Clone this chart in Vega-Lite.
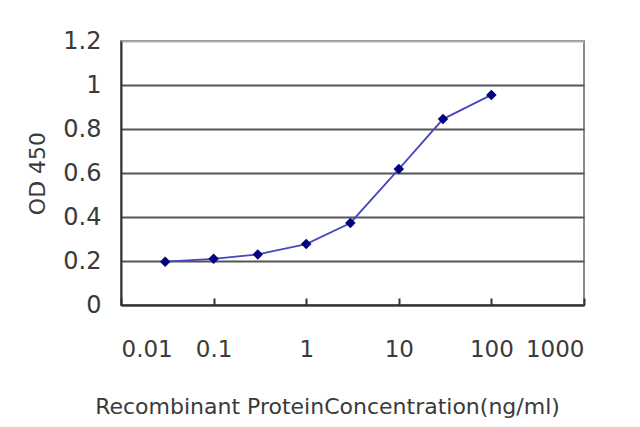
{
  "$schema": "https://vega.github.io/schema/vega-lite/v6.json",
  "description": "OD 450 versus recombinant protein concentration, log x axis",
  "autosize": "none",
  "width": 463,
  "height": 264,
  "padding": {"left": 121, "top": 41, "right": 56, "bottom": 122},
  "background": "white",
  "data": {
    "values": [
      {"conc": 0.03, "od": 0.197},
      {"conc": 0.1, "od": 0.21},
      {"conc": 0.3, "od": 0.23},
      {"conc": 1, "od": 0.277},
      {"conc": 3, "od": 0.373},
      {"conc": 10, "od": 0.618},
      {"conc": 30, "od": 0.845},
      {"conc": 100, "od": 0.955}
    ]
  },
  "encoding": {
    "x": {
      "field": "conc",
      "type": "quantitative",
      "scale": {"type": "log", "domain": [0.01, 1000], "nice": false},
      "axis": {
        "title": "Recombinant ProteinConcentration(ng/ml)",
        "values": [0.01, 0.1, 1, 10, 100, 1000],
        "format": "~g",
        "grid": false,
        "tickSize": -7,
        "tickColor": "#333",
        "tickWidth": 2,
        "labelPadding": 40,
        "labelDx": -5,
        "titleX": 206,
        "titleY": 101,
        "titleBaseline": "middle"
      }
    },
    "y": {
      "field": "od",
      "type": "quantitative",
      "scale": {"domain": [0, 1.2], "nice": false},
      "axis": {
        "title": "OD 450",
        "values": [0, 0.2, 0.4, 0.6, 0.8, 1, 1.2],
        "format": "~g",
        "ticks": false,
        "labelPadding": 20,
        "labelFontSize": 24,
        "gridColor": {"condition": {"test": "datum.value == 1.2", "value": "#b0b0b0"}, "value": "#555555"},
        "gridWidth": 2,
        "titleX": -84,
        "titleY": 132,
        "titleBaseline": "middle"
      }
    }
  },
  "layer": [
    {"mark": {"type": "line", "color": "#4848c0", "strokeWidth": 1.8}},
    {"mark": {"type": "point", "shape": "diamond", "filled": true, "color": "#000080", "size": 110, "opacity": 1}}
  ],
  "config": {
    "view": {"stroke": "#8a8a8a", "strokeWidth": 2},
    "axis": {
      "domainColor": "#333",
      "domainWidth": 2,
      "labelFont": "DejaVu Sans",
      "labelFontSize": 23,
      "labelColor": "#3a3a3a",
      "titleFont": "DejaVu Sans",
      "titleFontSize": 22,
      "titleFontWeight": "normal",
      "titleColor": "#3a3a3a"
    }
  }
}
